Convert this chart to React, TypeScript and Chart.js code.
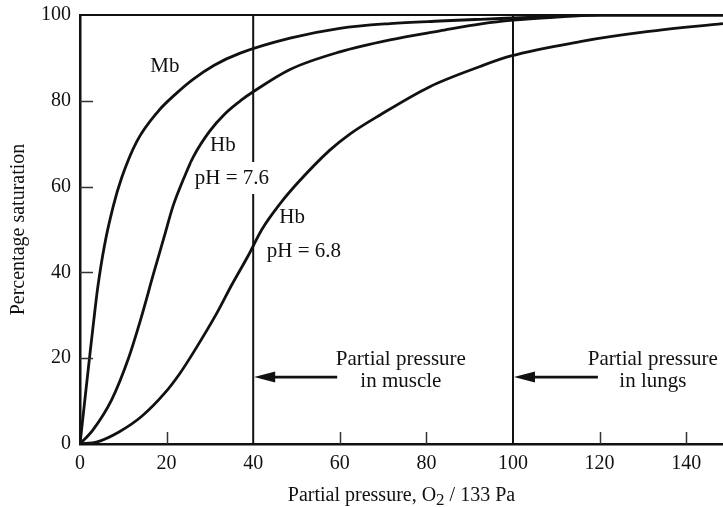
import { useEffect, useRef } from 'react';
import { Chart, registerables } from 'chart.js';

Chart.register(...registerables);

// ---- data (partial pressure in units of 133 Pa, % saturation) ----
const mbPressure = [0, 1.2, 2.3, 3.2, 4.1, 5.6, 7.7, 9.6, 13.1, 18, 22, 26.1, 31, 37, 48.5, 60, 71.6, 83.1, 92.4, 100, 110, 120, 148.5];
const mbSaturation = [0, 11, 21, 29, 36.5, 46, 55.5, 62, 70.5, 77.5, 81.5, 85, 88.3, 91.1, 94.6, 96.9, 98, 98.6, 99, 99.3, 99.7, 100, 100];

const hb76Pressure = [0, 3, 7.3, 11.2, 14, 16.9, 19.5, 21.5, 24, 26.2, 30, 33.5, 37.3, 40, 48.5, 60, 71.6, 83.1, 93, 100, 110, 120, 148.5];
const hb76Saturation = [0, 3.3, 10.3, 20, 29, 39.4, 48.5, 55.5, 62, 67, 73, 77, 80.2, 82.1, 87.3, 91.4, 94.2, 96.3, 98, 98.8, 99.5, 100, 100];

const hb68Pressure = [0, 4, 9, 14.2, 19.6, 23.1, 26.6, 31.6, 35, 38.9, 42, 46.2, 50.4, 57.7, 62.4, 69.3, 80.8, 92.4, 99.3, 115.5, 130.9, 148.5];
const hb68Saturation = [0, 0.5, 2.8, 6.4, 11.9, 16.5, 22, 30.5, 37, 44, 50, 56, 61, 68.5, 72.3, 76.7, 83.3, 88, 90.4, 93.8, 96.1, 98];

const musclePressure = 40;
const lungsPressure = 100;

const xMin = 0;
const xMax = 148.5;
const xStep = 20;
const yMin = 0;
const yMax = 100;
const yStep = 20;
const yInnerTicks = [20, 40, 60, 80];
const xInnerTicks = [20, 60, 80, 120, 140];

const yTitle = 'Percentage saturation';
const xTitleParts = ['Partial pressure, O', '2', ' / 133 Pa'];

// curve labels, placed in data coordinates
const curveLabels = [
  { text: 'Mb', x: 19.6, y: 88.1, mask: false },
  { text: 'Hb', x: 33, y: 69.7, mask: false },
  { text: 'pH = 7.6', x: 35.1, y: 62, mask: true },
  { text: 'Hb', x: 49, y: 52.7, mask: false },
  { text: 'pH = 6.8', x: 51.7, y: 44.8, mask: false },
];

// arrow annotations, in data coordinates
const arrowNotes = [
  { lines: ['Partial pressure', 'in muscle'], textX: 74.1, textY: [19.8, 14.5], from: 59.4, to: musclePressure, arrowY: 15.6 },
  { lines: ['Partial pressure', 'in lungs'], textX: 132.3, textY: [19.8, 14.5], from: 119.6, to: lungsPressure, arrowY: 15.6 },
];

const INK = '#111';
const FONT = '"Liberation Serif", "Times New Roman", serif';

const toPoints = (xs: number[], ys: number[]) => xs.map((x, i) => ({ x, y: ys[i] }));

const overlayPlugin = {
  id: 'overlay',
  afterDatasetsDraw(chart: any) {
    const { ctx, chartArea: a, scales } = chart;
    const xs = scales.x;
    const ys = scales.y;
    ctx.save();

    // top frame line
    ctx.strokeStyle = INK;
    ctx.lineWidth = 2;
    ctx.beginPath();
    ctx.moveTo(a.left, a.top);
    ctx.lineTo(a.right, a.top);
    ctx.stroke();

    // inward tick marks
    ctx.lineWidth = 1.5;
    ctx.strokeStyle = '#333';
    ctx.beginPath();
    for (const v of yInnerTicks) {
      const py = Math.round(ys.getPixelForValue(v)) + 0.5;
      ctx.moveTo(a.left, py);
      ctx.lineTo(a.left + 13, py);
    }
    for (const v of xInnerTicks) {
      const px = Math.round(xs.getPixelForValue(v)) + 0.5;
      ctx.moveTo(px, a.bottom);
      ctx.lineTo(px, a.bottom - 12);
    }
    ctx.stroke();

    // curve labels
    ctx.font = `21px ${FONT}`;
    ctx.textAlign = 'center';
    ctx.textBaseline = 'middle';
    for (const l of curveLabels) {
      const px = xs.getPixelForValue(l.x);
      const py = ys.getPixelForValue(l.y);
      if (l.mask) {
        const w = ctx.measureText(l.text).width;
        ctx.fillStyle = '#fff';
        ctx.fillRect(px - w / 2 - 3, py - 16, w + 6, 32);
      }
      ctx.fillStyle = INK;
      ctx.fillText(l.text, px, py);
    }

    // arrow annotations
    for (const n of arrowNotes) {
      const tx = xs.getPixelForValue(n.textX);
      n.lines.forEach((line, i) => {
        ctx.fillStyle = INK;
        ctx.fillText(line, tx, ys.getPixelForValue(n.textY[i]));
      });
      const ay = ys.getPixelForValue(n.arrowY);
      const fromX = xs.getPixelForValue(n.from);
      const tipX = xs.getPixelForValue(n.to) + 1;
      const headLen = 21;
      ctx.strokeStyle = INK;
      ctx.lineWidth = 2.7;
      ctx.beginPath();
      ctx.moveTo(fromX, ay);
      ctx.lineTo(tipX + headLen - 2, ay);
      ctx.stroke();
      ctx.fillStyle = INK;
      ctx.beginPath();
      ctx.moveTo(tipX, ay);
      ctx.lineTo(tipX + headLen, ay - 5.5);
      ctx.lineTo(tipX + headLen, ay + 5.5);
      ctx.closePath();
      ctx.fill();
    }

    // x-axis title with subscript
    const big = `20px ${FONT}`;
    const small = `17px ${FONT}`;
    ctx.textAlign = 'left';
    ctx.textBaseline = 'alphabetic';
    ctx.font = big;
    const w0 = ctx.measureText(xTitleParts[0]).width;
    const w2 = ctx.measureText(xTitleParts[2]).width;
    ctx.font = small;
    const w1 = ctx.measureText(xTitleParts[1]).width;
    const total = w0 + w1 + w2;
    let cx = (a.left + a.right) / 2 - total / 2;
    const baseY = 501;
    ctx.fillStyle = INK;
    ctx.font = big;
    ctx.fillText(xTitleParts[0], cx, baseY);
    cx += w0;
    ctx.font = small;
    ctx.fillText(xTitleParts[1], cx, baseY + 4);
    cx += w1;
    ctx.font = big;
    ctx.fillText(xTitleParts[2], cx, baseY);

    ctx.restore();
  },
};

export default function App() {
  const canvasRef = useRef<HTMLCanvasElement | null>(null);

  useEffect(() => {
    const canvas = canvasRef.current;
    if (!canvas) return;
    const curve = (label: string, xs: number[], ys: number[]) => ({
      label,
      data: toPoints(xs, ys),
      showLine: true,
      borderColor: INK,
      borderWidth: 2.8,
      pointRadius: 0,
      cubicInterpolationMode: 'monotone' as const,
      fill: false,
    });
    const vline = (label: string, p: number) => ({
      label,
      data: [{ x: p, y: yMin }, { x: p, y: yMax }],
      showLine: true,
      borderColor: INK,
      borderWidth: 2,
      pointRadius: 0,
      fill: false,
    });

    const chart = new Chart(canvas, {
      type: 'scatter',
      data: {
        datasets: [
          vline('muscle', musclePressure),
          vline('lungs', lungsPressure),
          curve('Mb', mbPressure, mbSaturation),
          curve('Hb pH 7.6', hb76Pressure, hb76Saturation),
          curve('Hb pH 6.8', hb68Pressure, hb68Saturation),
        ],
      },
      options: {
        responsive: false,
        animation: false,
        layout: { padding: { top: 15, right: 0, bottom: 0, left: 0 } },
        plugins: {
          legend: { display: false },
          tooltip: { enabled: false },
        },
        scales: {
          x: {
            type: 'linear',
            min: xMin,
            max: xMax,
            grid: { display: false, drawTicks: false, tickLength: 0 },
            border: { display: true, color: INK, width: 2.5 },
            ticks: {
              stepSize: xStep,
              includeBounds: false,
              padding: 8,
              color: INK,
              font: { family: FONT, size: 20 },
              maxRotation: 0,
            },
            afterFit: (s: any) => {
              s.height = 63;
              s.paddingLeft = 0;
              s.paddingRight = 0;
            },
          },
          y: {
            type: 'linear',
            min: yMin,
            max: yMax,
            grid: { display: false, drawTicks: false, tickLength: 0 },
            border: { display: true, color: INK, width: 2.5 },
            ticks: {
              stepSize: yStep,
              padding: 9,
              color: INK,
              font: { family: FONT, size: 20 },
            },
            title: {
              display: true,
              text: yTitle,
              color: INK,
              font: { family: FONT, size: 20, weight: 'normal' },
              padding: { top: 7, bottom: 0 },
            },
            afterFit: (s: any) => {
              s.width = 80;
              s.paddingTop = 0;
              s.paddingBottom = 0;
            },
          },
        },
      },
      plugins: [overlayPlugin],
    });
    return () => chart.destroy();
  }, []);

  return (
    <div style={{ position: 'absolute', left: 0, top: 0, width: 723, height: 507, background: '#fff' }}>
      <canvas ref={canvasRef} width={723} height={507} style={{ display: 'block' }} />
    </div>
  );
}
